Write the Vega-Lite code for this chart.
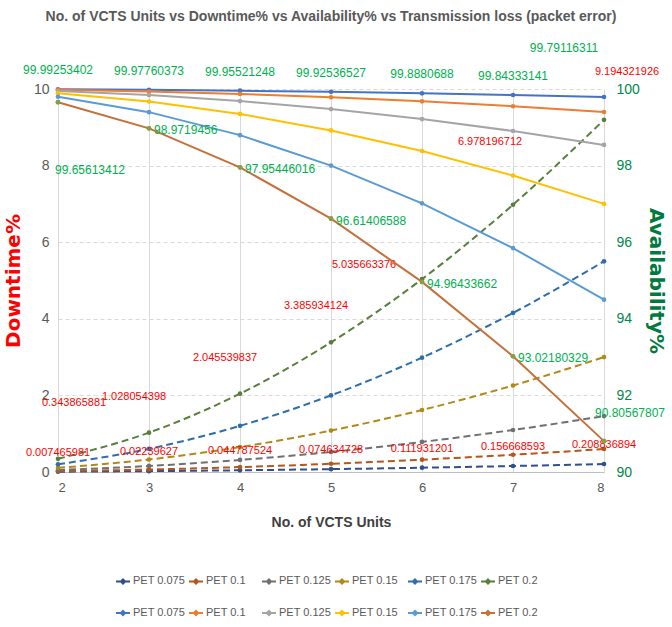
{
  "$schema": "https://vega.github.io/schema/vega-lite/v6.json",
  "width": 546,
  "height": 383,
  "autosize": {"type": "none"},
  "padding": {"left": 58, "top": 89, "right": 68, "bottom": 155},
  "title": {"text": "No. of VCTS Units vs Downtime% vs Availability% vs Transmission loss (packet error)", "fontSize": 14, "fontWeight": "bold", "color": "#595959", "anchor": "middle", "offset": 18, "font": "Liberation Sans"},
  "config": {"view": {"stroke": null}, "font": "Liberation Sans"},
  "data": {"values": [
    {"n": 2, "s": "D 0.075", "v": 0.007465981}, {"n": 3, "s": "D 0.075", "v": 0.02239627}, {"n": 4, "s": "D 0.075", "v": 0.044787524}, {"n": 5, "s": "D 0.075", "v": 0.074634728}, {"n": 6, "s": "D 0.075", "v": 0.111931201}, {"n": 7, "s": "D 0.075", "v": 0.156668593}, {"n": 8, "s": "D 0.075", "v": 0.208836894},
    {"n": 2, "s": "D 0.1", "v": 0.0215}, {"n": 3, "s": "D 0.1", "v": 0.0645}, {"n": 4, "s": "D 0.1", "v": 0.1289}, {"n": 5, "s": "D 0.1", "v": 0.2147}, {"n": 6, "s": "D 0.1", "v": 0.3219}, {"n": 7, "s": "D 0.1", "v": 0.4503}, {"n": 8, "s": "D 0.1", "v": 0.6},
    {"n": 2, "s": "D 0.125", "v": 0.0525}, {"n": 3, "s": "D 0.125", "v": 0.1575}, {"n": 4, "s": "D 0.125", "v": 0.3147}, {"n": 5, "s": "D 0.125", "v": 0.5239}, {"n": 6, "s": "D 0.125", "v": 0.7848}, {"n": 7, "s": "D 0.125", "v": 1.0971}, {"n": 8, "s": "D 0.125", "v": 1.46},
    {"n": 2, "s": "D 0.15", "v": 0.1087}, {"n": 3, "s": "D 0.15", "v": 0.3258}, {"n": 4, "s": "D 0.15", "v": 0.6506}, {"n": 5, "s": "D 0.15", "v": 1.0819}, {"n": 6, "s": "D 0.15", "v": 1.6185}, {"n": 7, "s": "D 0.15", "v": 2.2589}, {"n": 8, "s": "D 0.15", "v": 3.0},
    {"n": 2, "s": "D 0.175", "v": 0.2018}, {"n": 3, "s": "D 0.175", "v": 0.6043}, {"n": 4, "s": "D 0.175", "v": 1.2049}, {"n": 5, "s": "D 0.175", "v": 2.0002}, {"n": 6, "s": "D 0.175", "v": 2.9858}, {"n": 7, "s": "D 0.175", "v": 4.1541}, {"n": 8, "s": "D 0.175", "v": 5.5},
    {"n": 2, "s": "D 0.2", "v": 0.343865881}, {"n": 3, "s": "D 0.2", "v": 1.028054398}, {"n": 4, "s": "D 0.2", "v": 2.045539837}, {"n": 5, "s": "D 0.2", "v": 3.385934124}, {"n": 6, "s": "D 0.2", "v": 5.035663376}, {"n": 7, "s": "D 0.2", "v": 6.978196712}, {"n": 8, "s": "D 0.2", "v": 9.194321926},
    {"n": 2, "s": "A 0.075", "v": 99.99253402}, {"n": 3, "s": "A 0.075", "v": 99.97760373}, {"n": 4, "s": "A 0.075", "v": 99.95521248}, {"n": 5, "s": "A 0.075", "v": 99.92536527}, {"n": 6, "s": "A 0.075", "v": 99.8880688}, {"n": 7, "s": "A 0.075", "v": 99.84333141}, {"n": 8, "s": "A 0.075", "v": 99.79116311},
    {"n": 2, "s": "A 0.1", "v": 99.9785}, {"n": 3, "s": "A 0.1", "v": 99.9355}, {"n": 4, "s": "A 0.1", "v": 99.8711}, {"n": 5, "s": "A 0.1", "v": 99.7853}, {"n": 6, "s": "A 0.1", "v": 99.6781}, {"n": 7, "s": "A 0.1", "v": 99.5497}, {"n": 8, "s": "A 0.1", "v": 99.4},
    {"n": 2, "s": "A 0.125", "v": 99.9475}, {"n": 3, "s": "A 0.125", "v": 99.8425}, {"n": 4, "s": "A 0.125", "v": 99.6853}, {"n": 5, "s": "A 0.125", "v": 99.4761}, {"n": 6, "s": "A 0.125", "v": 99.2152}, {"n": 7, "s": "A 0.125", "v": 98.9029}, {"n": 8, "s": "A 0.125", "v": 98.54},
    {"n": 2, "s": "A 0.15", "v": 99.8913}, {"n": 3, "s": "A 0.15", "v": 99.6742}, {"n": 4, "s": "A 0.15", "v": 99.3494}, {"n": 5, "s": "A 0.15", "v": 98.9181}, {"n": 6, "s": "A 0.15", "v": 98.3815}, {"n": 7, "s": "A 0.15", "v": 97.7411}, {"n": 8, "s": "A 0.15", "v": 97.0},
    {"n": 2, "s": "A 0.175", "v": 99.7982}, {"n": 3, "s": "A 0.175", "v": 99.3957}, {"n": 4, "s": "A 0.175", "v": 98.7951}, {"n": 5, "s": "A 0.175", "v": 97.9998}, {"n": 6, "s": "A 0.175", "v": 97.0142}, {"n": 7, "s": "A 0.175", "v": 95.8459}, {"n": 8, "s": "A 0.175", "v": 94.5},
    {"n": 2, "s": "A 0.2", "v": 99.65613412}, {"n": 3, "s": "A 0.2", "v": 98.9719456}, {"n": 4, "s": "A 0.2", "v": 97.95446016}, {"n": 5, "s": "A 0.2", "v": 96.61406588}, {"n": 6, "s": "A 0.2", "v": 94.96433662}, {"n": 7, "s": "A 0.2", "v": 93.02180329}, {"n": 8, "s": "A 0.2", "v": 90.80567807}
  ]},
  "encoding": {
    "x": {"field": "n", "type": "quantitative", "scale": {"domain": [2, 8], "nice": false, "zero": false},
      "axis": {"title": "No. of VCTS Units", "values": [2, 3, 4, 5, 6, 7, 8], "format": "d", "grid": true, "gridColor": "#d9d9d9", "domainColor": "#bfbfbf", "ticks": false, "labelPadding": 9, "labelFontSize": 13, "labelColor": "#595959", "titleFontSize": 14, "titleFontWeight": "bold", "titleColor": "#404040", "titlePadding": 21}}
  },
  "layer": [
    {
      "layer": [
        {
          "transform": [{"filter": "indexof(datum.s, 'D') == 0"}],
          "mark": {"type": "line", "strokeWidth": 2, "strokeDash": [7, 4], "interpolate": "monotone"},
          "encoding": {
            "y": {"field": "v", "type": "quantitative", "scale": {"domain": [0, 10], "nice": false},
              "axis": {"orient": "left", "title": "Downtime%", "values": [0, 1, 2, 3, 4, 5, 6, 7, 8, 9, 10], "grid": true, "gridDash": [4, 3], "gridColor": "#d9d9d9", "domain": false, "ticks": false, "labelFontSize": 14, "labelColor": "#595959", "labelPadding": 9, "titleColor": "#FF0000", "titleFont": "DejaVu Sans", "titleFontSize": 20, "titleFontWeight": "bold", "titlePadding": 10}},
            "color": {"field": "s", "type": "nominal",
              "scale": {"domain": ["D 0.075", "D 0.1", "D 0.125", "D 0.15", "D 0.175", "D 0.2", "A 0.075", "A 0.1", "A 0.125", "A 0.15", "A 0.175", "A 0.2"],
                "range": ["#2F4F8F", "#B5561A", "#707070", "#B08A14", "#2E6EAD", "#587F3C", "#4472C4", "#ED7D31", "#A5A5A5", "#FFC000", "#5B9BD5", "#C5703A"]},
              "legend": {"orient": "none", "direction": "horizontal", "legendX": 57, "legendY": 484, "columns": 6, "title": null, "labelExpr": "'PET' + slice(datum.label, 1)", "symbolType": "M-1,0H1M0,-0.3L0.3,0L0,0.3L-0.3,0Z", "symbolSize": 196, "symbolStrokeWidth": 2, "labelFontSize": 11, "labelOffset": 2, "labelColor": "#595959", "columnPadding": 0, "rowPadding": 17, "gridAlign": "all"}}
          }
        },
        {
          "transform": [{"filter": "indexof(datum.s, 'D') == 0"}],
          "mark": {"type": "point", "filled": true, "size": 22, "opacity": 1},
          "encoding": {
            "y": {"field": "v", "type": "quantitative"},
            "color": {"field": "s", "type": "nominal"}
          }
        },
        {
          "transform": [{"filter": "datum.s == 'D 0.075'"}],
          "mark": {"type": "text", "color": "#FF0000", "dy": -19, "fontSize": 11},
          "encoding": {"y": {"field": "v", "type": "quantitative"}, "text": {"field": "v", "type": "nominal"}}
        },
        {
          "transform": [{"filter": "datum.s == 'D 0.2' && datum.n == 2"}],
          "mark": {"type": "text", "color": "#FF0000", "dx": 16, "dy": -56, "fontSize": 11},
          "encoding": {"y": {"field": "v", "type": "quantitative"}, "text": {"field": "v", "type": "nominal"}}
        },
        {
          "transform": [{"filter": "datum.s == 'D 0.2' && datum.n >= 3 && datum.n <= 5"}],
          "mark": {"type": "text", "color": "#FF0000", "dx": -15, "dy": -36, "fontSize": 11},
          "encoding": {"y": {"field": "v", "type": "quantitative"}, "text": {"field": "v", "type": "nominal"}}
        },
        {
          "transform": [{"filter": "datum.s == 'D 0.2' && datum.n == 6"}],
          "mark": {"type": "text", "color": "#FF0000", "dx": -58, "dy": -14, "fontSize": 11},
          "encoding": {"y": {"field": "v", "type": "quantitative"}, "text": {"field": "v", "type": "nominal"}}
        },
        {
          "transform": [{"filter": "datum.s == 'D 0.2' && datum.n == 7"}],
          "mark": {"type": "text", "color": "#FF0000", "dx": -23, "dy": -63, "fontSize": 11},
          "encoding": {"y": {"field": "v", "type": "quantitative"}, "text": {"field": "v", "type": "nominal"}}
        },
        {
          "transform": [{"filter": "datum.s == 'D 0.2' && datum.n == 8"}],
          "mark": {"type": "text", "color": "#FF0000", "dx": 23, "dy": -48, "fontSize": 11},
          "encoding": {"y": {"field": "v", "type": "quantitative"}, "text": {"field": "v", "type": "nominal"}}
        }
      ]
    },
    {
      "layer": [
        {
          "transform": [{"filter": "indexof(datum.s, 'A') == 0"}],
          "mark": {"type": "line", "strokeWidth": 2},
          "encoding": {
            "y": {"field": "v", "type": "quantitative", "scale": {"domain": [90, 100], "nice": false, "zero": false},
              "axis": {"orient": "right", "title": "Availability%", "values": [90, 91, 92, 93, 94, 95, 96, 97, 98, 99, 100], "grid": false, "domain": false, "ticks": false, "labelFontSize": 14, "labelColor": "#00884A", "labelPadding": 12, "titleColor": "#007A3D", "titleFont": "DejaVu Sans", "titleFontSize": 20, "titleFontWeight": "bold", "titlePadding": 6}},
            "color": {"field": "s", "type": "nominal"}
          }
        },
        {
          "transform": [{"filter": "indexof(datum.s, 'A') == 0"}],
          "mark": {"type": "point", "filled": true, "size": 22, "opacity": 1},
          "encoding": {
            "y": {"field": "v", "type": "quantitative"},
            "color": {"field": "s", "type": "nominal"}
          }
        },
        {
          "transform": [{"filter": "datum.s == 'A 0.2'"}],
          "mark": {"type": "point", "filled": true, "size": 22, "opacity": 1, "color": "#7FA34A"},
          "encoding": {"y": {"field": "v", "type": "quantitative"}}
        },
        {
          "transform": [{"filter": "datum.s == 'A 0.075' && datum.n < 8"}],
          "mark": {"type": "text", "color": "#00B050", "dy": -19, "fontSize": 12},
          "encoding": {"y": {"field": "v", "type": "quantitative"}, "text": {"field": "v", "type": "nominal"}}
        },
        {
          "transform": [{"filter": "datum.s == 'A 0.075' && datum.n == 8"}],
          "mark": {"type": "text", "color": "#00B050", "dx": -40, "dy": -49, "fontSize": 12},
          "encoding": {"y": {"field": "v", "type": "quantitative"}, "text": {"field": "v", "type": "nominal"}}
        },
        {
          "transform": [{"filter": "datum.s == 'A 0.2' && datum.n == 2"}],
          "mark": {"type": "text", "color": "#00B050", "dx": 32, "dy": 68, "fontSize": 12},
          "encoding": {"y": {"field": "v", "type": "quantitative"}, "text": {"field": "v", "type": "nominal"}}
        },
        {
          "transform": [{"filter": "datum.s == 'A 0.2' && datum.n >= 3 && datum.n <= 7"}],
          "mark": {"type": "text", "color": "#00B050", "align": "left", "dx": 5, "dy": 2, "fontSize": 12},
          "encoding": {"y": {"field": "v", "type": "quantitative"}, "text": {"field": "v", "type": "nominal"}}
        },
        {
          "transform": [{"filter": "datum.s == 'A 0.2' && datum.n == 8"}],
          "mark": {"type": "text", "color": "#00B050", "dx": 26, "dy": -28, "fontSize": 12},
          "encoding": {"y": {"field": "v", "type": "quantitative"}, "text": {"field": "v", "type": "nominal"}}
        }
      ]
    }
  ],
  "resolve": {"scale": {"y": "independent"}}
}
